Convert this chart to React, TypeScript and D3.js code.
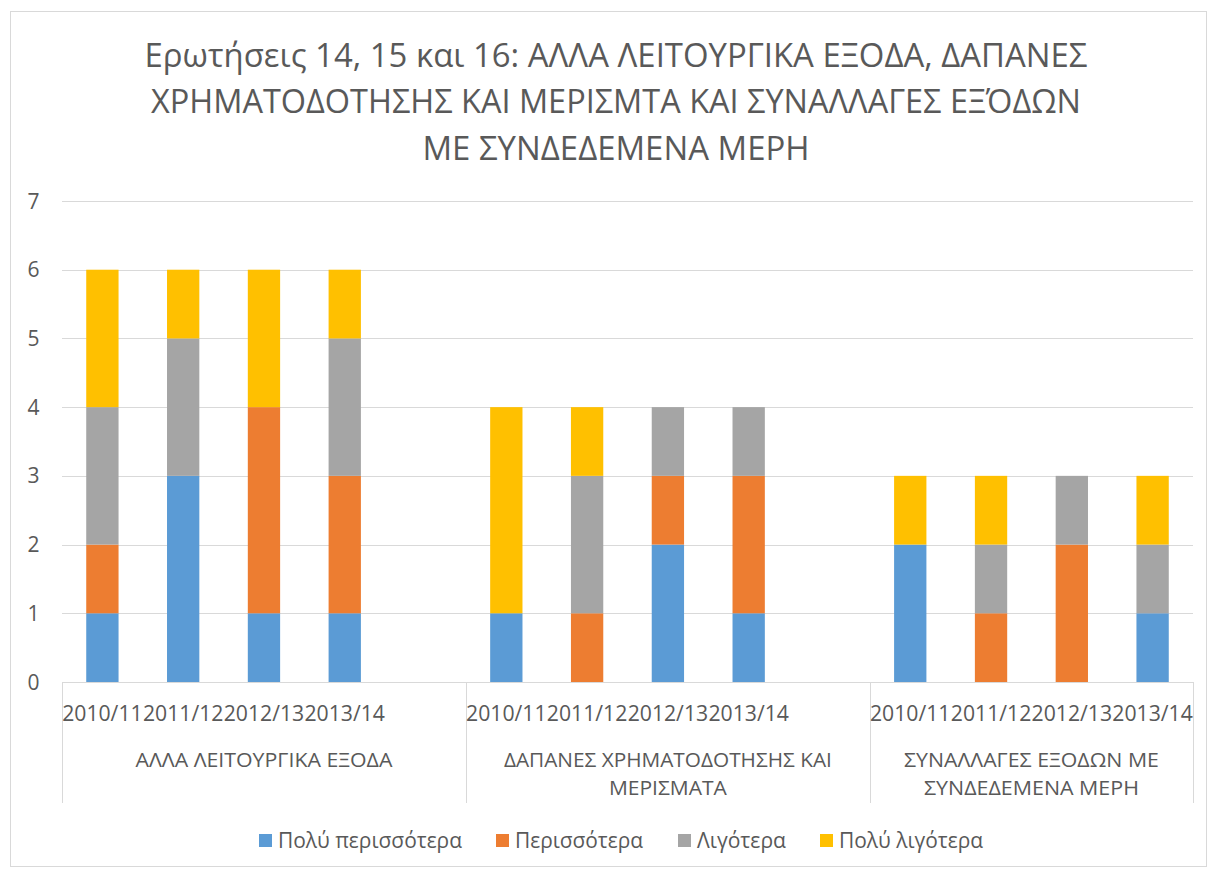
import React from "react";
import * as d3 from "d3";

const titleLines = [
  "Ερωτήσεις 14, 15 και 16: ΑΛΛΑ ΛΕΙΤΟΥΡΓΙΚΑ ΕΞΟΔΑ, ΔΑΠΑΝΕΣ",
  "ΧΡΗΜΑΤΟΔΟΤΗΣΗΣ ΚΑΙ ΜΕΡΙΣΜΤΑ ΚΑΙ ΣΥΝΑΛΛΑΓΕΣ ΕΞΌΔΩΝ",
  "ΜΕ ΣΥΝΔΕΔΕΜΕΝΑ ΜΕΡΗ",
];
const groupLabelLines = [
  ["ΑΛΛΑ ΛΕΙΤΟΥΡΓΙΚΑ ΕΞΟΔΑ"],
  ["ΔΑΠΑΝΕΣ ΧΡΗΜΑΤΟΔΟΤΗΣΗΣ ΚΑΙ", "ΜΕΡΙΣΜΑΤΑ"],
  ["ΣΥΝΑΛΛΑΓΕΣ ΕΞΟΔΩΝ ΜΕ", "ΣΥΝΔΕΔΕΜΕΝΑ ΜΕΡΗ"],
];
const years = ["2010/11", "2011/12", "2012/13", "2013/14"];
const seriesNames = ["Πολύ περισσότερα", "Περισσότερα", "Λιγότερα", "Πολύ λιγότερα"];
const seriesColors = ["#5B9BD5", "#ED7D31", "#A5A5A5", "#FFC000"];
// values per (group, year), in order g1 y1..y4, g2 y1..y4, g3 y1..y4
const polyPerissotera = [1, 3, 1, 1, 1, 0, 2, 1, 2, 0, 0, 1];
const perissotera = [1, 0, 3, 2, 0, 1, 1, 2, 0, 1, 2, 0];
const ligotera = [2, 2, 0, 2, 0, 2, 1, 1, 0, 1, 1, 1];
const polyLigotera = [2, 1, 2, 1, 3, 1, 0, 0, 1, 1, 0, 1];
const yTicks = [0, 1, 2, 3, 4, 5, 6, 7];

// layout (pixel widths measured from reference)
const titleWidths = [943, 930, 387];
const groupLabelWidths = [[257], [328, 118], [255, 215]];
const legendTextWidths = [184, 128, 89, 144];
const legendX = [259, 496, 678, 820];

const TEXT = "#595959";
const GRID = "#D9D9D9";
const FONT = "'Open Sans', 'Noto Sans', sans-serif";

export default function App() {
  const left = 62, right = 1193, top = 201, bottom = 682;

  // slots: each group has 4 years, plus a blank slot between groups
  const slots: { key: string; g: number; yi: number }[] = [];
  groupLabelLines.forEach((_, g) => {
    years.forEach((_, yi) => slots.push({ key: `${g}-${yi}`, g, yi }));
    if (g < groupLabelLines.length - 1) slots.push({ key: `${g}-blank`, g, yi: -1 });
  });
  const x = d3
    .scaleBand<string>()
    .domain(slots.map((s) => s.key))
    .range([left, right])
    .paddingInner(0.6)
    .paddingOuter(0.3);
  const step = x.step();
  const bw = x.bandwidth();
  const y = d3.scaleLinear().domain([0, 7]).range([bottom, top]);

  const rows = years.length * groupLabelLines.length;
  const data = d3.range(rows).map((i) => ({
    key: `${Math.floor(i / 4)}-${i % 4}`,
    s0: polyPerissotera[i],
    s1: perissotera[i],
    s2: ligotera[i],
    s3: polyLigotera[i],
  }));
  const stacked = d3.stack<any>().keys(["s0", "s1", "s2", "s3"])(data);

  const slotLeft = (key: string) => (x(key) as number) + bw / 2 - step / 2;
  const groupBounds = groupLabelLines.map((_, g) => {
    const l = slotLeft(`${g}-0`);
    const r = slotLeft(`${g}-3`) + step + (g < groupLabelLines.length - 1 ? step : 0);
    return [l, Math.min(r, right)];
  });
  const dividers = [left, ...groupBounds.map((b) => b[1])];

  return (
    <div style={{ position: "absolute", left: 0, top: 0 }}>
      <svg width={1211} height={870} style={{ display: "block", fontFamily: FONT }}>
        <rect x={0} y={0} width={1211} height={870} fill="#fff" />
        <rect x={10.5} y={11.5} width={1196} height={855} fill="#fff" stroke={GRID} strokeWidth={1} />

        {titleLines.map((t, i) => (
          <text
            key={i}
            x={616}
            y={66.5 + i * 46.5}
            textAnchor="middle"
            fontSize={32}
            fill={TEXT}
            textLength={titleWidths[i]}
            lengthAdjust="spacingAndGlyphs"
          >
            {t}
          </text>
        ))}

        {yTicks.filter((t) => t > 0).map((t) => (
          <line key={t} x1={left} x2={right} y1={Math.round(y(t)) + 0.5} y2={Math.round(y(t)) + 0.5} stroke={GRID} strokeWidth={1} />
        ))}
        {yTicks.map((t) => (
          <text key={t} x={39.5} y={y(t) + 7.5} textAnchor="end" fontSize={21} fill={TEXT}>
            {t}
          </text>
        ))}

        {stacked.map((layer, si) => (
          <g key={si} fill={seriesColors[si]}>
            {layer.map((d: any, i: number) =>
              d[1] - d[0] > 0 ? (
                <rect
                  key={i}
                  x={x(data[i].key) as number}
                  y={y(d[1])}
                  width={bw}
                  height={y(d[0]) - y(d[1])}
                />
              ) : null
            )}
          </g>
        ))}

        <line x1={left} x2={right} y1={bottom + 0.5} y2={bottom + 0.5} stroke={GRID} strokeWidth={1} />
        {dividers.map((d, i) => (
          <line key={i} x1={Math.round(d) + 0.5} x2={Math.round(d) + 0.5} y1={bottom} y2={803} stroke={GRID} strokeWidth={1} />
        ))}

        {slots
          .filter((s) => s.yi >= 0)
          .map((s) => (
            <text
              key={s.key}
              x={(x(s.key) as number) + bw / 2}
              y={721}
              textAnchor="middle"
              fontSize={22}
              fill={TEXT}
              textLength={80.5}
              lengthAdjust="spacingAndGlyphs"
            >
              {years[s.yi]}
            </text>
          ))}

        {groupLabelLines.map((lines, g) => {
          const cx = (groupBounds[g][0] + groupBounds[g][1]) / 2;
          const baseY = 767;
          return lines.map((ln, li) => (
            <text
              key={`${g}-${li}`}
              x={cx}
              y={baseY + li * 28}
              textAnchor="middle"
              fontSize={20}
              fill={TEXT}
              textLength={groupLabelWidths[g][li]}
              lengthAdjust="spacingAndGlyphs"
            >
              {ln}
            </text>
          ));
        })}

        {seriesNames.map((n, i) => (
          <g key={n}>
            <rect x={legendX[i]} y={834} width={13} height={13} fill={seriesColors[i]} />
            <text
              x={legendX[i] + 19}
              y={848}
              fontSize={21}
              fill={TEXT}
              textLength={legendTextWidths[i]}
              lengthAdjust="spacingAndGlyphs"
            >
              {n}
            </text>
          </g>
        ))}
      </svg>
    </div>
  );
}
